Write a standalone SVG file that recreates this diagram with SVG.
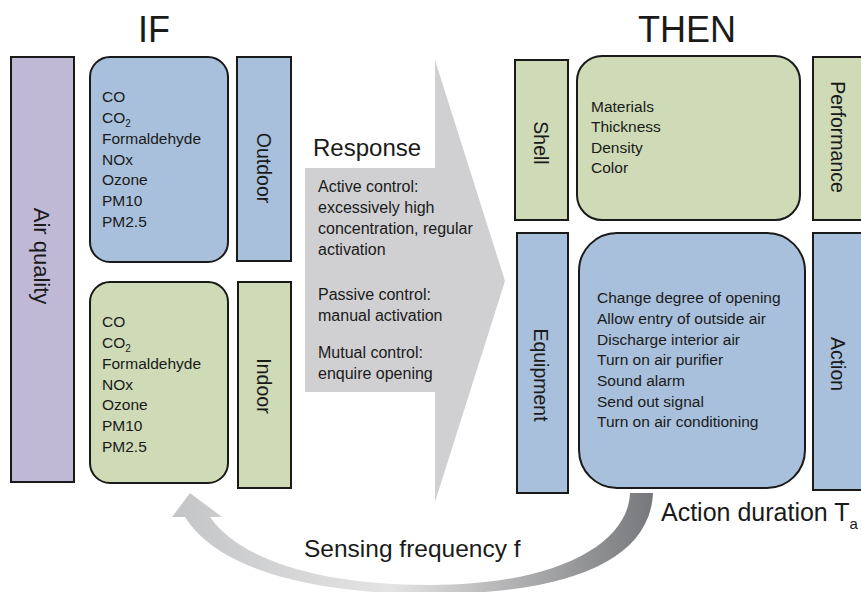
<svg xmlns="http://www.w3.org/2000/svg" width="861" height="592" viewBox="0 0 861 592">
<style>
text{font-family:"Liberation Sans",Arial,sans-serif;fill:#1a1a1a}
.box{stroke:#1a1a1a;stroke-width:2}
.lav{fill:#c0b9d6}
.blue{fill:#a8c0dc}
.green{fill:#cedbb6}
.list{font-size:15.5px}
.lab{font-size:19.5px;text-anchor:middle}
.resp{font-size:16px}
.title{font-size:36px;text-anchor:middle}
</style>
<defs>
<linearGradient id="cg" gradientUnits="userSpaceOnUse" x1="175" y1="0" x2="655" y2="0">
<stop offset="0" stop-color="#c4c5c7"/>
<stop offset="0.45" stop-color="#e4e4e4"/>
<stop offset="1" stop-color="#76777a"/>
</linearGradient>
</defs>
<text class="title" x="154" y="42">IF</text>
<text class="title" x="687" y="42">THEN</text>

<g id="connectors">
<polygon id="response-arrow" points="305,168 435,168 435,60 505,281 435,502 435,392 305,392" fill="#d0d0d2"/>
<path id="feedback-arrow" d="M653,493 C650,560 570,594 430,594 C300,594 215,565 185,517 L172,517 L190,493 L222,517 L210,517 C240,560 320,585 430,585 C555,585 628,545 630,493 Z" fill="url(#cg)"/>
</g>

<g id="air-quality">
<rect class="box lav" x="11" y="57" width="63" height="425"/>
<text class="lab" style="font-size:22px" transform="translate(42,256) rotate(90)" dy="8">Air quality</text>
</g>

<g id="outdoor-list">
<rect class="box blue" x="90" y="57" width="138" height="205" rx="20"/>
<text class="list" x="102" y="102">CO</text>
<text class="list" x="102" y="123">CO<tspan font-size="10" dy="4">2</tspan></text>
<text class="list" x="102" y="144">Formaldehyde</text>
<text class="list" x="102" y="165">NOx</text>
<text class="list" x="102" y="185">Ozone</text>
<text class="list" x="102" y="206">PM10</text>
<text class="list" x="102" y="227">PM2.5</text>
</g>
<g id="outdoor">
<rect class="box blue" x="237" y="57" width="54" height="204"/>
<text class="lab" transform="translate(264,168) rotate(90)" dy="7">Outdoor</text>
</g>

<g id="indoor-list">
<rect class="box green" x="90" y="282" width="138" height="201" rx="20"/>
<text class="list" x="102" y="327">CO</text>
<text class="list" x="102" y="348">CO<tspan font-size="10" dy="4">2</tspan></text>
<text class="list" x="102" y="369">Formaldehyde</text>
<text class="list" x="102" y="390">NOx</text>
<text class="list" x="102" y="410">Ozone</text>
<text class="list" x="102" y="431">PM10</text>
<text class="list" x="102" y="452">PM2.5</text>
</g>
<g id="indoor">
<rect class="box green" x="238" y="282" width="53" height="206"/>
<text class="lab" transform="translate(264,386) rotate(90)" dy="7">Indoor</text>
</g>

<g id="response">
<text x="313" y="156" style="font-size:24px">Response</text>
<text class="resp" x="318" y="192">Active control:</text>
<text class="resp" x="318" y="213">excessively high</text>
<text class="resp" x="318" y="234">concentration, regular</text>
<text class="resp" x="318" y="255">activation</text>
<text class="resp" x="318" y="300">Passive control:</text>
<text class="resp" x="318" y="321">manual activation</text>
<text class="resp" x="318" y="358">Mutual control:</text>
<text class="resp" x="318" y="379">enquire opening</text>
</g>

<g id="shell">
<rect class="box green" x="515" y="60" width="53" height="160"/>
<text class="lab" transform="translate(541,143) rotate(90)" dy="7">Shell</text>
</g>
<g id="shell-list">
<rect class="box green" x="577" y="56" width="223" height="164" rx="25"/>
<text class="list" x="591" y="112">Materials</text>
<text class="list" x="591" y="132">Thickness</text>
<text class="list" x="591" y="153">Density</text>
<text class="list" x="591" y="173">Color</text>
</g>
<g id="performance">
<rect class="box green" x="813" y="57" width="60" height="163"/>
<text class="lab" transform="translate(838,137) rotate(90)" dy="7">Performance</text>
</g>

<g id="equipment">
<rect class="box blue" x="517" y="233" width="51" height="260"/>
<text class="lab" transform="translate(541,375) rotate(90)" dy="7">Equipment</text>
</g>
<g id="action-list">
<rect class="box blue" x="579" y="233" width="226" height="255" rx="38"/>
<text class="list" x="597" y="303">Change degree of opening</text>
<text class="list" x="597" y="324">Allow entry of outside air</text>
<text class="list" x="597" y="345">Discharge interior air</text>
<text class="list" x="597" y="365">Turn on air purifier</text>
<text class="list" x="597" y="386">Sound alarm</text>
<text class="list" x="597" y="407">Send out signal</text>
<text class="list" x="597" y="427">Turn on air conditioning</text>
</g>
<g id="action">
<rect class="box blue" x="813" y="233" width="60" height="257"/>
<text class="lab" transform="translate(838,364) rotate(90)" dy="7">Action</text>
</g>

<text x="661" y="521" style="font-size:25px">Action duration T<tspan font-size="15" dy="8">a</tspan></text>
<text x="304" y="557" style="font-size:24.5px">Sensing frequency f</text>
</svg>
